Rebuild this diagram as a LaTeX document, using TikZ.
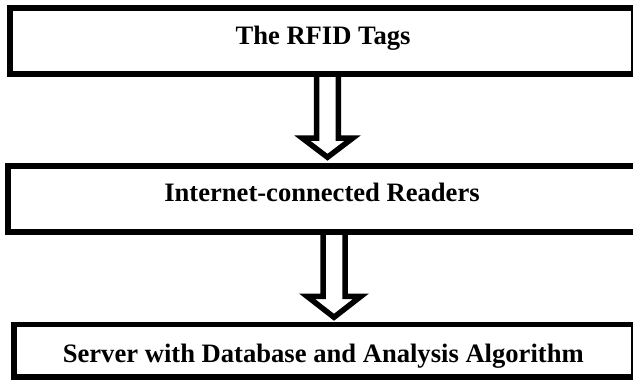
\documentclass[tikz,border=0pt]{standalone}
\usepackage{fontspec}
\setmainfont{Liberation Serif}
\usetikzlibrary{calc}
\begin{document}
\begin{tikzpicture}[x=1pt,y=1pt,
  boxframe/.style={draw=black, fill=white, line width=5.5pt, inner sep=0pt},
  lbl/.style={font=\fontsize{26.6}{32}\selectfont\bfseries, anchor=base, inner sep=0pt},
  blockarrow/.style={draw=black, line width=5.5pt, line join=miter, line cap=butt}]
\useasboundingbox (0,0) rectangle (633,381);
\clip (0,0) rectangle (633,381);
% boxes
\node[boxframe, minimum width=624pt, minimum height=66pt] (b1) at (322,340) {};
\node[boxframe, minimum width=628pt, minimum height=66pt] (b2) at (322,182) {};
\node[boxframe, minimum width=620pt, minimum height=52.5pt] (b3) at (324,30.25) {};
% labels
\node[lbl] (t1) at ($(b1.center)+(1,-4)$) {The RFID Tags};
\node[lbl] (t2) at ($(b2.center)+(0,-2.7)$) {Internet-connected Readers};
\node[lbl] (t3) at ($(b3.center)+(-0.7,-11.25)$) {Server with Database and Analysis Algorithm};
% block arrows
\draw[blockarrow] ($(b1.south)+(-5.3,0)$) |- ($(b2.north)+(-19.5,25)$)
  -- ($(b2.north)+(5.5,6)$) -- ($(b2.north)+(30.5,25)$) -| ($(b1.south)+(16.3,0)$);
\draw[blockarrow] ($(b2.south)+(1,0)$) |- ($(b3.north)+(-17,25.5)$)
  -- ($(b3.north)+(10,4.5)$) -- ($(b3.north)+(37,25.5)$) -| ($(b2.south)+(23,0)$);
\end{tikzpicture}
\end{document}
